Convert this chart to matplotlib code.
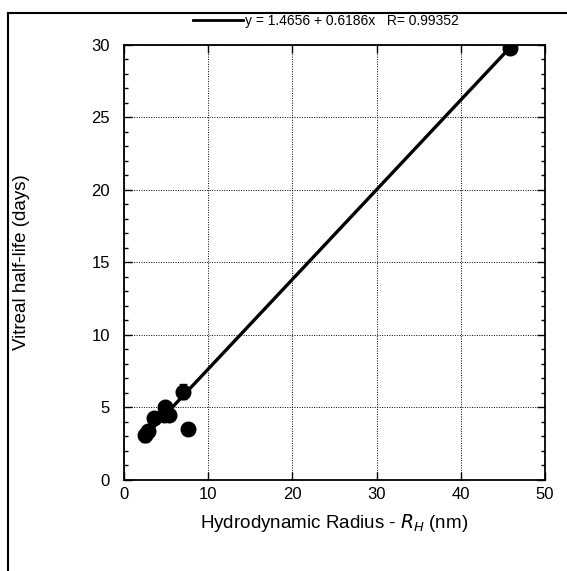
import matplotlib.pyplot as plt
from matplotlib.lines import Line2D
from matplotlib.ticker import MultipleLocator

plt.rcParams['font.family'] = ['Liberation Sans', 'DejaVu Sans']

# data
radius = [2.5, 2.8, 3.6, 4.7, 4.9, 5.3, 7.0, 7.6, 45.8]
half_life = [3.1, 3.4, 4.3, 4.5, 5.0, 4.5, 6.1, 3.5, 29.8]
half_life_err = [0.45, 0.3, 0.2, 0.2, 0.2, 0.2, 0.5, 0.0, 0.0]

intercept = 1.4656
slope = 0.6186
r_value = 0.99352


def fit_line(xs):
    return [intercept + slope * x for x in xs]


fig = plt.figure(figsize=(5.67, 5.71), dpi=100)
ax = fig.add_axes([0.2187, 0.1594, 0.7425, 0.7618])

ax.errorbar(radius, half_life, yerr=half_life_err, fmt='o', color='black',
            markersize=10.5, elinewidth=1.5, capsize=3, zorder=3)

x_fit = [min(radius), max(radius)]
ax.plot(x_fit, fit_line(x_fit), color='black', linewidth=2.4, zorder=2)

ax.set_xlim(0, 50)
ax.set_ylim(0, 30)
ax.xaxis.set_major_locator(MultipleLocator(10))
ax.yaxis.set_major_locator(MultipleLocator(5))
ax.yaxis.set_minor_locator(MultipleLocator(1))
ax.tick_params(which='both', direction='in', top=True, right=True,
               labelsize=12, width=1)
ax.tick_params(which='major', length=6)
ax.tick_params(which='minor', length=3)
ax.tick_params(axis='x', pad=5)
ax.tick_params(axis='y', pad=10)
ax.grid(True, which='major', linestyle=(0, (1, 1.5)), color='black', linewidth=0.7)
for spine in ax.spines.values():
    spine.set_linewidth(1.3)

ax.set_ylabel('Vitreal half-life (days)', fontsize=13.5, labelpad=44)
ax.set_xlabel('Hydrodynamic Radius - $R_H$ (nm)', fontsize=13.5, labelpad=7)

handle = Line2D([], [], color='black', linewidth=2)
label = f'y = {intercept} + {slope}x   R= {r_value}'
fig.legend([handle], [label], loc='center', bbox_to_anchor=(0.575, 0.963),
           frameon=False, fontsize=10, handlelength=3.6, handletextpad=0.2)

# border lines from the scanned page
fig.add_artist(Line2D([0.014, 1.0], [0.977, 0.977], color='black', linewidth=1.5,
                      transform=fig.transFigure))
fig.add_artist(Line2D([0.014, 0.014], [0.0, 0.977], color='black', linewidth=1.5,
                      transform=fig.transFigure))

fig.savefig('out.png', dpi=100)
